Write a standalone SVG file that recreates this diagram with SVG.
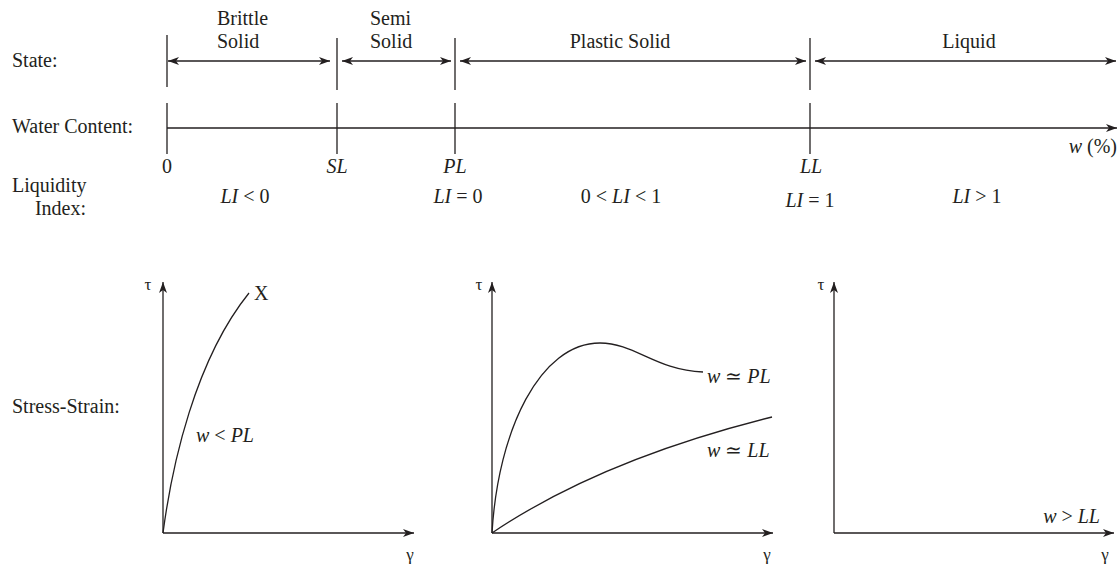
<svg xmlns="http://www.w3.org/2000/svg" width="1118" height="564" viewBox="0 0 1118 564">
<style>
text{font-family:"Liberation Serif","Times New Roman",serif;font-size:20px;fill:#231f20}
.i{font-style:italic}
.m{text-anchor:middle}
.e{text-anchor:end}
.g{font-size:17px}
.ln{stroke:#231f20;stroke-width:1.3;fill:none}
</style>
<defs>
<marker id="ah" viewBox="0 0 11 8" refX="11" refY="4" markerWidth="11" markerHeight="8" markerUnits="userSpaceOnUse" orient="auto-start-reverse">
<path d="M0,0 L11,4 L0,8 L3,4 Z" fill="#231f20"/>
</marker>
</defs>
<rect width="1118" height="564" fill="#fff"/>
<g id="row-labels">
<text x="12" y="67">State:</text>
<text x="12" y="133">Water Content:</text>
<text x="12" y="192">Liquidity</text>
<text x="86" y="215" class="e">Index:</text>
<text x="12" y="413">Stress-Strain:</text>
</g>
<g id="state-labels">
<text x="217" y="25">Brittle</text>
<text x="217" y="48">Solid</text>
<text x="370" y="25">Semi</text>
<text x="370" y="48">Solid</text>
<text x="620" y="48" class="m">Plastic Solid</text>
<text x="969" y="48" class="m">Liquid</text>
</g>
<g id="connectors">
<line class="ln" x1="167" y1="35" x2="167" y2="87"/>
<line class="ln" x1="337" y1="38" x2="337" y2="90"/>
<line class="ln" x1="455" y1="38" x2="455" y2="90"/>
<line class="ln" x1="810" y1="38" x2="810" y2="90"/>
<line class="ln" x1="168" y1="61" x2="330" y2="61" marker-start="url(#ah)" marker-end="url(#ah)"/>
<line class="ln" x1="342" y1="61" x2="451" y2="61" marker-start="url(#ah)" marker-end="url(#ah)"/>
<line class="ln" x1="460" y1="61" x2="806" y2="61" marker-start="url(#ah)" marker-end="url(#ah)"/>
<line class="ln" x1="815" y1="61" x2="1116" y2="61" marker-start="url(#ah)" marker-end="url(#ah)"/>
<line class="ln" x1="167" y1="128" x2="1117" y2="128" marker-end="url(#ah)"/>
<line class="ln" x1="167" y1="103" x2="167" y2="154"/>
<line class="ln" x1="337" y1="103" x2="337" y2="154"/>
<line class="ln" x1="455" y1="103" x2="455" y2="154"/>
<line class="ln" x1="810" y1="103" x2="810" y2="154"/>
</g>
<g id="water-labels">
<text x="167" y="173" class="m">0</text>
<text x="337" y="173" class="m i">SL</text>
<text x="455" y="173" class="m i">PL</text>
<text x="811" y="173" class="m i">LL</text>
<text x="1117" y="153" class="e"><tspan class="i">w</tspan> (%)</text>
</g>
<g id="li-labels">
<text x="245" y="203" class="m"><tspan class="i">LI</tspan> &lt; 0</text>
<text x="458" y="203" class="m"><tspan class="i">LI</tspan> = 0</text>
<text x="621" y="203" class="m">0 &lt; <tspan class="i">LI</tspan> &lt; 1</text>
<text x="810" y="207" class="m"><tspan class="i">LI</tspan> = 1</text>
<text x="977" y="203" class="m"><tspan class="i">LI</tspan> &gt; 1</text>
</g>
<g id="graph-brittle">
<line class="ln" x1="163" y1="533" x2="163" y2="282" marker-end="url(#ah)"/>
<line class="ln" x1="163" y1="533" x2="414" y2="533" marker-end="url(#ah)"/>
<path class="ln" d="M163,533 C172,465 195,360 249,293"/>
<text x="148" y="290" class="m g">τ</text>
<text x="410" y="560" class="m g">γ</text>
<text x="254" y="300">X</text>
<text x="196" y="442"><tspan class="i">w</tspan> &lt; <tspan class="i">PL</tspan></text>
</g>
<g id="graph-plastic">
<line class="ln" x1="492" y1="533" x2="492" y2="282" marker-end="url(#ah)"/>
<line class="ln" x1="492" y1="533" x2="773" y2="533" marker-end="url(#ah)"/>
<path class="ln" d="M492,533 C498,430 540,343 600,343 C635,343 655,370 703,372"/>
<path class="ln" d="M492,533 Q600,460 772,417"/>
<text x="479" y="290" class="m g">τ</text>
<text x="767" y="560" class="m g">γ</text>
<text x="707" y="383"><tspan class="i">w</tspan> ≃ <tspan class="i">PL</tspan></text>
<text x="707" y="457"><tspan class="i">w</tspan> ≃ <tspan class="i">LL</tspan></text>
</g>
<g id="graph-liquid">
<line class="ln" x1="834" y1="533" x2="834" y2="282" marker-end="url(#ah)"/>
<line class="ln" x1="834" y1="533" x2="1114" y2="533" marker-end="url(#ah)"/>
<text x="821" y="290" class="m g">τ</text>
<text x="1105" y="560" class="m g">γ</text>
<text x="1100" y="523" class="e"><tspan class="i">w</tspan> &gt; <tspan class="i">LL</tspan></text>
</g>
</svg>
